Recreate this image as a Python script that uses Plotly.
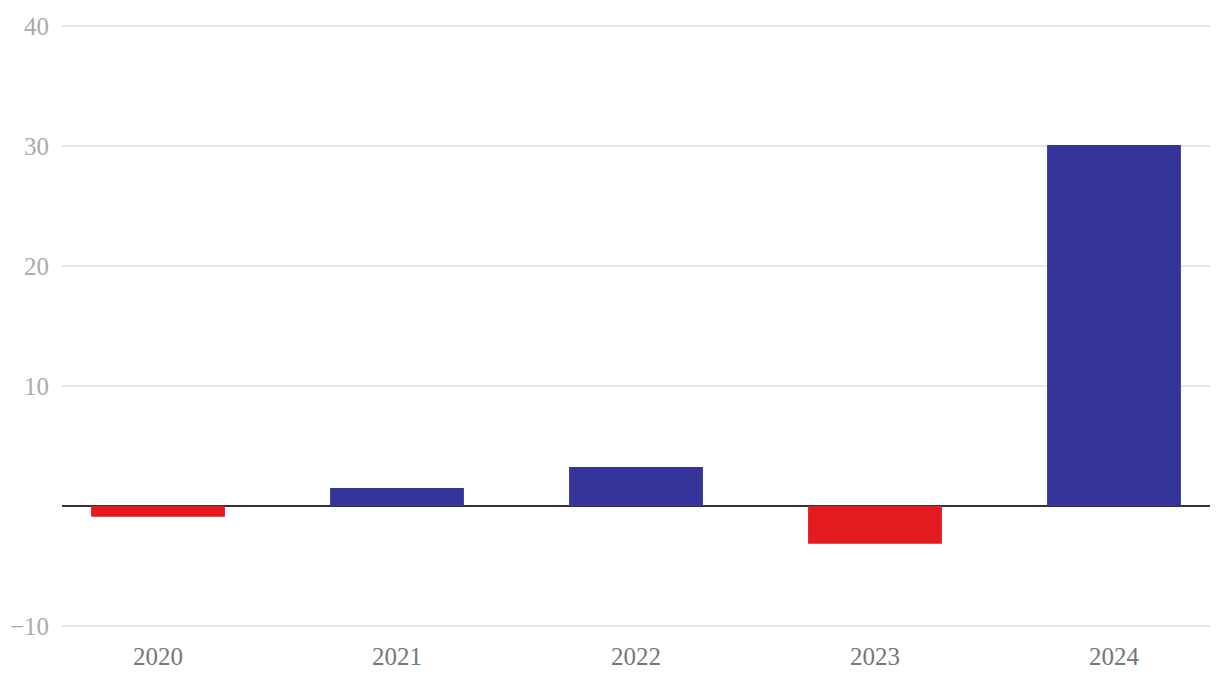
import plotly.graph_objects as go

years = ["2020", "2021", "2022", "2023", "2024"]
values = [-0.9, 1.5, 3.25, -3.15, 30.1]
colors = ["#e31b1e" if v < 0 else "#35349a" for v in values]
y_ticks = [-10, 0, 10, 20, 30, 40]
y_ticktext = ["\u221210", "", "10", "20", "30", "40"]

fig = go.Figure(go.Bar(x=years, y=values, marker_color=colors, marker_line_width=0, width=0.56))

fig.update_layout(
    width=1212, height=678,
    margin=dict(l=54, r=10, t=17, b=59, autoexpand=False),
    plot_bgcolor="white", paper_bgcolor="white",
    showlegend=False,
    font=dict(family="Liberation Serif", size=25),
    xaxis=dict(range=[-0.4017, 4.4017], showgrid=False, showline=False, zeroline=False,
               automargin=False,
               ticks="outside", ticklen=7, tickcolor="rgba(0,0,0,0)",
               tickfont=dict(color="#777777", size=25)),
    yaxis=dict(range=[-10.1, 40.1], tickvals=y_ticks, ticktext=y_ticktext,
               automargin=False,
               gridcolor="#e6e6e6", gridwidth=1.5, zeroline=True, zerolinecolor="#333333",
               zerolinewidth=2, showline=False, ticks="", ticklabelstandoff=12,
               tickfont=dict(color="#aaaaaa", size=25)),
)

fig.write_html("out.html")
